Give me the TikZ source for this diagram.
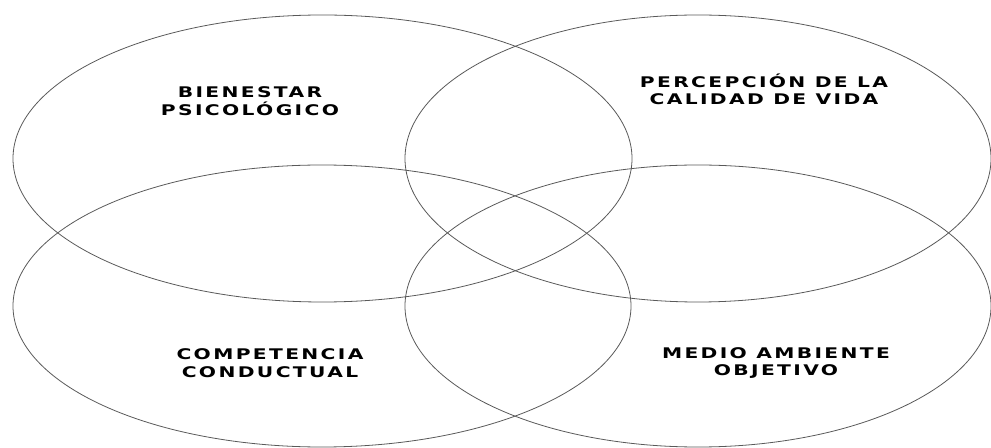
\documentclass[tikz,border=0pt]{standalone}
\usepackage{fontspec}
\newfontfamily\labelfont[FakeStretch=1.38, LetterSpace=16]{DejaVu Sans}
\usepackage{tikz}

\begin{document}
\begin{tikzpicture}[every node/.style={font=\labelfont\bfseries\fontsize{11}{13}\selectfont, align=center}, x=0.75pt, y=-0.75pt]
	\useasboundingbox (0,0) rectangle (991,448);
	\tikzset{ring/.style={draw=black!65, line width=0.6pt}}
	\draw[ring] (322.5,158.5) ellipse [x radius=309.5, y radius=143.5];
	\draw[ring] (698,158.5) ellipse [x radius=293, y radius=143.5];
	\draw[ring] (322,306) ellipse [x radius=309, y radius=141];
	\draw[ring] (698,306) ellipse [x radius=293, y radius=141];
	\node (bienestar) at (250,101) {BIENESTAR\\ PSICOLÓGICO};
	\node (percepcion) at (764,89) {PERCEPCIÓN DE LA\\ CALIDAD DE VIDA};
	\node (competencia) at (270,363) {COMPETENCIA\\ CONDUCTUAL};
	\node (medio) at (776,363) {MEDIO AMBIENTE\\ OBJETIVO};
\end{tikzpicture}
\end{document}
